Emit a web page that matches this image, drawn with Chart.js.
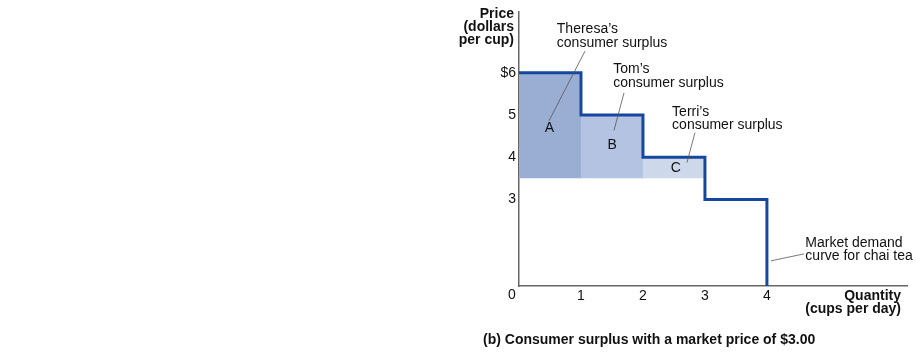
<!DOCTYPE html>
<html>
<head>
<meta charset="utf-8">
<script src="https://cdn.jsdelivr.net/npm/chart.js@4.4.0/dist/chart.umd.min.js"></script>
<style>
  html,body{margin:0;padding:0;background:#fff;}
</style>
</head>
<body>
<canvas id="surplusChart" width="916" height="354"></canvas>
<script>
// demand curve steps (cups, price)
var stepQty = [0, 1, 2, 3, 4];
var stepPrice = [6, 5, 4, 3, 0];
// the three buyers with surplus
var buyers = ['Theresa', 'Tom', 'Terri'];
var buyerLetters = ['A', 'B', 'C'];
var buyerValue = [6, 5, 4];
var surplusFloor = 3.5; // shading stops here in the figure
var yTicks = [3, 4, 5, 6];
var xTicks = [1, 2, 3, 4];

var lineBlue = '#15479f';
var fills = ['#9aaed4', '#b3c3e1', '#ced8eb'];
var FONT = 'Liberation Sans, Arial, Helvetica, sans-serif';

// price axis is squeezed below 3 in the original drawing
function toAxis(p){
    return p >= 3 ? p : 0.95 + p * (2.05 / 3);
}

var datasets = [{
    label: 'Market demand',
    data: stepQty.map(function(q, i){ return {x: q, y: toAxis(stepPrice[i])}; }),
    stepped: true,
    borderColor: lineBlue,
    borderWidth: 3,
    borderJoinStyle: 'miter',
    pointRadius: 0,
    fill: false
}];
buyers.forEach(function(b, i){
    datasets.push({
        label: b,
        data: [{x: i, y: buyerValue[i]}, {x: i + 1, y: buyerValue[i]}],
        borderColor: 'rgba(0,0,0,0)',
        borderWidth: 0,
        pointRadius: 0,
        backgroundColor: fills[i],
        fill: {value: surplusFloor}
    });
    if(i > 0){
        datasets.push({
            label: b + ' edge',
            data: [{x: i, y: surplusFloor}, {x: i, y: buyerValue[i]}],
            borderColor: '#8fa2c8',
            borderWidth: 1,
            borderDash: [1, 2],
            pointRadius: 0,
            fill: false
        });
    }
});

// labels and leader lines, in chart units
var notes = [
    {lines: ['Theresa’s', 'consumer surplus'], x: 0.61, y: 6.93, from: [1.065, 6.51], to: [0.484, 4.86]},
    {lines: ['Tom’s', 'consumer surplus'], x: 1.52, y: 5.99, from: [1.694, 5.52], to: [1.532, 4.63]},
    {lines: ['Terri’s', 'consumer surplus'], x: 2.47, y: 4.98, from: [2.839, 4.58], to: [2.71, 3.87]},
    {lines: ['Market demand', 'curve for chai tea'], x: 4.62, y: 1.88, from: [4.597, 1.71], to: [4.065, 1.545]}
];
var letterPos = [[0.49, 4.59], [1.505, 4.2], [2.53, 3.66]];

var textPlugin = {
    id: 'texts',
    afterDatasetsDraw: function(chart){
        var c = chart.ctx, xs = chart.scales.x, ys = chart.scales.y, area = chart.chartArea;
        c.save();
        c.fillStyle = '#111';
        c.textBaseline = 'alphabetic';
        // leader lines
        c.strokeStyle = '#555';
        c.lineWidth = 0.8;
        notes.forEach(function(n){
            c.beginPath();
            c.moveTo(xs.getPixelForValue(n.from[0]), ys.getPixelForValue(n.from[1]));
            c.lineTo(xs.getPixelForValue(n.to[0]), ys.getPixelForValue(n.to[1]));
            c.stroke();
        });
        c.font = '14px ' + FONT;
        c.textAlign = 'left';
        notes.forEach(function(n){
            var px = xs.getPixelForValue(n.x), py = ys.getPixelForValue(n.y);
            n.lines.forEach(function(t, k){ c.fillText(t, px, py + k * 13.5); });
        });
        c.textAlign = 'center';
        buyerLetters.forEach(function(l, i){
            c.fillText(l, xs.getPixelForValue(letterPos[i][0]), ys.getPixelForValue(letterPos[i][1]));
        });
        // origin label
        c.fillText('0', area.left - 7, area.bottom + 13);
        // axis titles
        c.font = 'bold 14px ' + FONT;
        c.textAlign = 'right';
        ['Price', '(dollars', 'per cup)'].forEach(function(t, k){ c.fillText(t, area.left - 5, 18 + k * 13.2); });
        ['Quantity', '(cups per day)'].forEach(function(t, k){ c.fillText(t, area.right - 6, area.bottom + 14 + k * 12.5); });
        c.textAlign = 'left';
        c.fillText('(b) Consumer surplus with a market price of $3.00', 483, 344);
        c.restore();
    }
};

var ctx = document.getElementById('surplusChart').getContext('2d');
var surplusChart = new Chart(ctx, {
    type: 'line',
    data: {datasets: datasets},
    options: {
        responsive: false,
        animation: false,
        layout: {padding: {left: 0, right: 9, top: 10, bottom: 0}},
        plugins: {legend: {display: false}, tooltip: {enabled: false}},
        scales: {
            x: {
                type: 'linear', min: 0, max: 6.26,
                afterBuildTicks: function(s){ s.ticks = xTicks.map(function(v){ return {value: v}; }); },
                afterFit: function(s){ s.height = 68; },
                grid: {display: false, drawTicks: false, tickLength: 0},
                border: {display: true, color: '#666', width: 1.5},
                ticks: {color: '#111', font: {family: FONT, size: 14}, padding: 2, maxRotation: 0}
            },
            y: {
                type: 'linear', min: 0.95, max: 7.45,
                afterBuildTicks: function(s){ s.ticks = yTicks.map(function(v){ return {value: v}; }); },
                afterFit: function(s){ s.width = 519; },
                grid: {display: false, drawTicks: false, tickLength: 0},
                border: {display: true, color: '#666', width: 1.5},
                ticks: {
                    color: '#111', font: {family: FONT, size: 14}, padding: 3,
                    callback: function(v){ return v === 6 ? '$6' : String(v); }
                }
            }
        }
    },
    plugins: [textPlugin]
});
</script>
</body>
</html>
